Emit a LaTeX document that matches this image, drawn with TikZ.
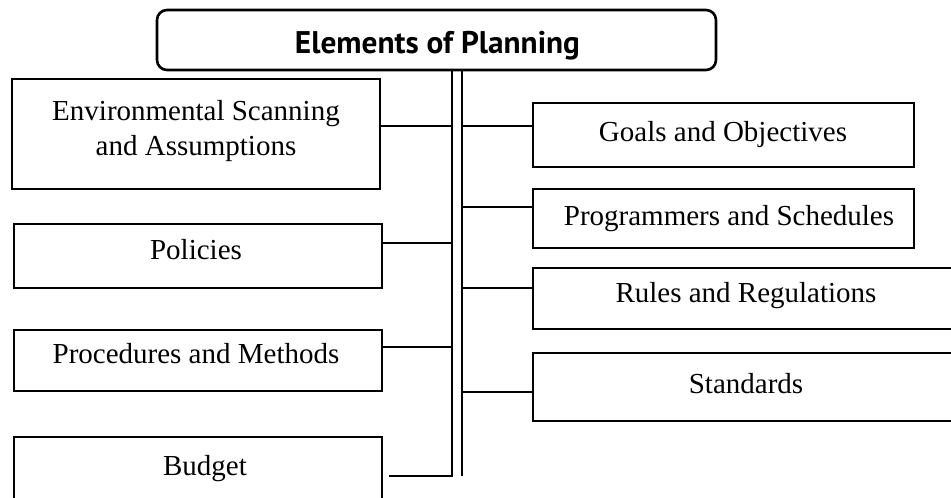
\documentclass[tikz,border=0pt]{standalone}
\usepackage{fontspec}
\setmainfont{Liberation Serif}
\newfontfamily\titlefont{PT Sans}
\begin{document}
\begin{tikzpicture}[x=1pt,y=-1pt,
  box/.style={draw, line width=1.8pt, inner sep=0pt, outer sep=0pt, anchor=north west},
  lbl/.style={font=\fontsize{29}{35}\selectfont, anchor=base, inner sep=0pt, align=center},
  link/.style={line width=2pt},
  bus/.style={line width=2.4pt}]
\useasboundingbox (0,0) rectangle (951,498);
\clip (0,0) rectangle (951,498);
% title
\node[draw, line width=2.6pt, rounded corners=10pt, minimum width=559pt, minimum height=60pt,
      anchor=north west, inner sep=0pt, outer sep=0pt] (title) at (157,10) {};
\node[anchor=base, inner sep=0pt] (titlet) at (437.5,53)
      {\resizebox{285pt}{!}{\titlefont\bfseries Elements of Planning}};
% boxes
\node[box, minimum width=368pt, minimum height=110pt] (env)   at (12,79)  {};
\node[box, minimum width=368pt, minimum height=64pt]  (pol)   at (14,224) {};
\node[box, minimum width=368pt, minimum height=61pt]  (proc)  at (14,330) {};
\node[box, minimum width=368pt, minimum height=80pt]  (bud)   at (14,437) {};
\node[box, minimum width=381pt, minimum height=64pt]  (goals) at (533,103) {};
\node[box, minimum width=381pt, minimum height=59pt]  (prog)  at (533,189) {};
\node[box, minimum width=426pt, minimum height=61pt]  (rules) at (533,268) {};
\node[box, minimum width=426pt, minimum height=68pt]  (stand) at (533,353) {};
% texts
\node[lbl] (envt)   at (196,155) {Environmental Scanning\\and Assumptions};
\node[lbl] (polt)   at (196,259) {Policies};
\node[lbl] (proct)  at (196,363) {Procedures and Methods};
\node[lbl] (budt)   at (205,475) {Budget};
\node[lbl] (goalst) at (723,141) {Goals and Objectives};
\node[lbl] (progt)  at (729,225) {Programmers and Schedules};
\node[lbl] (rulest) at (746,302) {Rules and Regulations};
\node[lbl] (standt) at (746,393) {Standards};
% bus
\coordinate (lbot) at (452,476);
\coordinate (rbot) at (462,476);
\coordinate (budc) at (389,476);
\draw[bus] (budc) -- (lbot) -- (title.south -| lbot);
\draw[bus] (rbot) -- (title.south -| rbot);
% junctions
\coordinate (jenv)   at (452,126);
\coordinate (jpol)   at (452,243);
\coordinate (jproc)  at (452,347);
\coordinate (jgoals) at (462,126);
\coordinate (jprog)  at (462,207);
\coordinate (jrules) at (462,288);
\coordinate (jstand) at (462,392);
\draw[link] (jenv)   -- (jenv -| env.east);
\draw[link] (jpol)   -- (jpol -| pol.east);
\draw[link] (jproc)  -- (jproc -| proc.east);
\draw[link] (jgoals) -- (jgoals -| goals.west);
\draw[link] (jprog)  -- (jprog -| prog.west);
\draw[link] (jrules) -- (jrules -| rules.west);
\draw[link] (jstand) -- (jstand -| stand.west);
\end{tikzpicture}
\end{document}
